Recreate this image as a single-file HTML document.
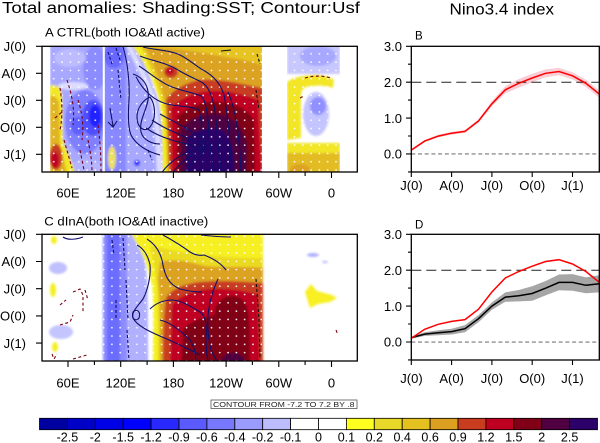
<!DOCTYPE html>
<html><head><meta charset="utf-8"><style>
html,body{margin:0;padding:0;background:#fff;}
svg{display:block;font-family:"Liberation Sans",Arial,sans-serif;}
</style></head><body>
<svg width="600" height="443" viewBox="0 0 600 443" xmlns="http://www.w3.org/2000/svg">
<defs>
<clipPath id="cA"><rect x="42" y="46.3" width="315.3" height="125.7"/></clipPath>
<clipPath id="cC"><rect x="42" y="234.3" width="315.3" height="126.7"/></clipPath>
<clipPath id="cB"><rect x="411.3" y="46.3" width="188" height="125.7"/></clipPath>
<clipPath id="cD"><rect x="411.3" y="234.3" width="188" height="125.7"/></clipPath>
<filter id="bl" filterUnits="userSpaceOnUse" x="0" y="0" width="600" height="443"><feGaussianBlur stdDeviation="1.1"/></filter>
<pattern id="dots" width="8.3" height="8.3" patternUnits="userSpaceOnUse"><circle cx="4" cy="4" r="0.85" fill="#ffffff"/></pattern>
</defs>

<!-- Titles -->
<text x="2" y="13" font-size="15.5" textLength="358" lengthAdjust="spacingAndGlyphs">Total anomalies: Shading:SST; Contour:Usf</text>
<text x="449.5" y="14.5" font-size="15.5" textLength="104.5" lengthAdjust="spacingAndGlyphs">Nino3.4 index</text>
<text x="45" y="36.6" font-size="11.5" textLength="160" lengthAdjust="spacingAndGlyphs">A  CTRL(both IO&amp;Atl active)</text>
<text x="44.3" y="225.3" font-size="11.5" textLength="164" lengthAdjust="spacingAndGlyphs">C  dInA(both IO&amp;Atl inactive)</text>
<text x="415" y="39.3" font-size="11.5">B</text>
<text x="415" y="228.3" font-size="11.5">D</text>

<!-- ================= PANEL A ================= -->
<g clip-path="url(#cA)">
<rect x="42" y="46" width="316" height="127" fill="#fff"/>
<g filter="url(#bl)">
 <!-- Indian Ocean -->
 <rect x="50" y="40" width="54" height="140" fill="#a8a8ff"/>
 <ellipse cx="95" cy="68" rx="12" ry="22" fill="#8c8cff"/>
 <ellipse cx="70" cy="58" rx="16" ry="9" fill="#bcbcff"/>
 <ellipse cx="73" cy="86" rx="15" ry="4" fill="#dcdcff"/>
 <ellipse cx="85" cy="122" rx="20" ry="32" fill="#8080ff"/>
 <ellipse cx="78" cy="126" rx="7" ry="9" fill="#6060ff"/>
 <ellipse cx="93" cy="118" rx="11" ry="18" fill="#5050ff"/>
 <ellipse cx="95" cy="116" rx="6" ry="11" fill="#2020ff"/>
 <ellipse cx="86" cy="168" rx="18" ry="8" fill="#b4b4ff"/>
 <path d="M50,86 C55,83 61,87 62,95 L63,140 C66,150 73,160 76,180 L50,180 Z" fill="#f2e628"/>
 <path d="M50,96 C54,95 58,98 59,104 L60,145 C62,155 66,165 68,180 L50,180 Z" fill="#e0b424"/>
 <ellipse cx="56" cy="157" rx="6.5" ry="13" fill="#c83c20"/>
 <ellipse cx="55" cy="160" rx="4" ry="8" fill="#c00020"/>
 <!-- West Pacific blue -->
 <path d="M104,40 L133,40 C142,60 152,80 158,100 C162,120 163,150 165,180 L104,180 Z" fill="#a8a8ff"/>
 <rect x="104" y="40" width="22" height="140" fill="#8888ff"/>
 <ellipse cx="114" cy="56" rx="10" ry="12" fill="#6868ff"/>
 <path d="M128,40 C138,58 150,80 156,100 C160,120 161,150 163,180 L157,180 C156,150 155,120 151,102 C145,82 133,60 123,40 Z" fill="#dcdcff"/>
 <ellipse cx="112" cy="158" rx="4" ry="12" fill="#ece060"/>
 <ellipse cx="137" cy="163" rx="3" ry="3" fill="#3030ff"/>
 <!-- Pacific warm -->
 <path d="M128,40 L263,40 L263,180 L163,180 C162,150 162,125 160,105 C156,85 145,62 128,40 Z" fill="#f4ec22"/>
 <path d="M138,40 L263,40 L263,180 L167,180 C166,150 166,125 164,108 C160,88 150,64 138,40 Z" fill="#e6c424"/>
 <path d="M146,48 C170,47 200,52 230,58 C245,60 255,62 263,66 L263,180 L170,180 C169,140 168,115 166,105 C162,85 155,65 146,48 Z" fill="#dca222"/>
 <ellipse cx="171" cy="72" rx="7" ry="6" fill="#c83c20"/>
 <ellipse cx="170" cy="71" rx="4" ry="3.5" fill="#c00020"/>
 <path d="M166,100 C172,90 185,83 200,80 C220,78 240,84 263,88 L263,180 L169,180 C168,140 167,115 166,100 Z" fill="#c83c20"/>
 <path d="M171,108 C180,98 195,92 210,91 C230,90 248,96 258,100 L262,180 L172,180 Z" fill="#c00020"/>
 <path d="M177,118 C185,108 200,102 215,102 C235,102 248,110 254,120 L255,180 L177,180 Z" fill="#800018"/>
 <path d="M181,130 C188,118 205,112 220,114 C238,118 247,135 247,150 L246,180 L180,180 Z" fill="#500040"/>
 <path d="M186,140 C192,130 210,126 222,130 C232,137 235,155 234,180 L186,180 Z" fill="#2c0068"/>
 <!-- Atlantic -->
 <rect x="287" y="40" width="53" height="34" fill="#c8c8ff"/>
 <ellipse cx="318" cy="56" rx="18" ry="10" fill="#a8a8ff"/>
 <path d="M287,82 C292,78 300,76 310,75 C320,74 328,76 334,80 L333,88 C325,85 315,85 306,87 C301,89 301,93 301,100 L301,138 L287,140 Z" fill="#f2e628"/>
 <ellipse cx="316" cy="114" rx="13" ry="22" fill="#c4c4ff"/>
 <ellipse cx="318" cy="106" rx="8" ry="9" fill="#9090ff"/>
 <rect x="287" y="143" width="53" height="40" fill="#f2e628"/>
 <rect x="287" y="153" width="53" height="30" fill="#e2bc24"/>
 <ellipse cx="300" cy="170" rx="10" ry="6" fill="#dca222"/>
</g>
<!-- land -->
<rect x="42" y="40" width="8" height="140" fill="#fff"/>
<rect x="102.8" y="40" width="2" height="140" fill="#fff"/>
<rect x="262" y="40" width="25" height="140" fill="#fff"/>
<rect x="340" y="40" width="20" height="140" fill="#fff"/>
<rect x="42" y="46" width="316" height="127" fill="url(#dots)"/>
<!-- contours -->
<g fill="none" stroke="#10106a" stroke-width="1.1">
 <path d="M143,47 C155,50 170,50 180,55 C190,60 196,66 203,70 C212,75 220,82 224,95 C228,115 230,140 232,175"/>
 <path d="M140,56 C152,61 165,62 178,70 C188,76 196,79 203,83 C210,88 214,100 216,120 C218,140 220,160 221,175"/>
 <path d="M139,66 C150,73 162,84 175,88 C186,92 195,93 201,96 C206,100 208,115 209,135 C210,150 212,165 213,175"/>
 <path d="M136,77 C142,88 152,100 167,104 C180,107 192,106 199,110 C202,120 202,140 204,175"/>
 <path d="M146,128 C160,138 180,143 200,147 C185,152 170,160 160,175"/>
 <path d="M152,120 C166,130 186,137 206,146 C191,155 179,163 171,175"/>
 <path d="M160,114 C174,122 192,130 211,145 C199,155 189,165 183,175"/>
 <path d="M150,97 C156,105 156,120 150,127 C145,133 137,128 137,117 C137,108 143,100 150,97 Z"/>
 <path d="M133,74 C142,77 150,85 148,100 C146,112 139,120 141,132 C143,140 152,144 160,144"/>
 <path d="M123,47 C127,60 130,80 129,100 C128,115 128,128 131,135 C136,145 148,152 160,155"/>
 <path d="M228,92 C236,110 240,140 241,175"/>
 <path d="M110,108 L113,126 M108,122 L113,127 L117,121" />
</g>
<g fill="none" stroke="#10106a" stroke-width="1.1" stroke-dasharray="3 2">
 <path d="M108,52 L112,64"/><path d="M116,48 L120,60"/><path d="M118,70 L121,100"/>
 <path d="M148,150 L152,160"/>
</g>
<g fill="none" stroke="#7a0010" stroke-width="1.1" stroke-dasharray="3 2.5">
 <path d="M60,88 C62,100 63,115 60,130"/>
 <path d="M67,80 C72,95 75,110 73,125"/>
 <path d="M78,100 C82,112 84,125 82,140"/>
 <path d="M88,140 C90,150 92,160 92,172"/>
 <path d="M98,125 C100,140 101,155 101,172"/>
 <path d="M64,140 L72,168"/>
 <path d="M55,118 L62,112"/>
 <path d="M80,150 L84,170"/>
 <path d="M305,78 C315,75 325,76 331,78"/>
 <path d="M300,98 L304,96"/>
</g>
<g fill="none" stroke="#111" stroke-width="1.1">
 <path d="M221,51 L231,50"/><path d="M257,54 L260,64" stroke-dasharray="3 2"/>
 <path d="M256,90 L259,110" stroke-dasharray="3 2"/>
</g>
</g>
<rect x="42" y="46.3" width="315.3" height="125.7" fill="none" stroke="#000" stroke-width="1.3"/>

<!-- ================= PANEL C ================= -->
<g clip-path="url(#cC)">
<rect x="42" y="234" width="316" height="128" fill="#fff"/>
<g filter="url(#bl)">
 <ellipse cx="58" cy="268" rx="9" ry="6" fill="#c0c0ff"/>
 <ellipse cx="61" cy="332" rx="12" ry="7" fill="#c4c4ff"/>
 <ellipse cx="53" cy="290" rx="3" ry="7" fill="#f4f020"/>
 <ellipse cx="55" cy="347" rx="3" ry="5" fill="#f4f020"/>
 <ellipse cx="54" cy="240" rx="3" ry="4" fill="#f4f020"/>
 <rect x="103" y="228" width="25" height="140" fill="#8c8cff"/>
 <rect x="107" y="228" width="13" height="140" fill="#6c6cff"/>
 <path d="M127,228 L134,228 C142,245 146,262 147,280 C148,300 148,330 148,370 L127,370 Z" fill="#b0b0ff"/>
 <path d="M128,228 L263,228 L263,370 L153,370 C153,330 154,300 152,285 C148,265 140,248 128,228 Z" fill="#f6f022"/>
 <path d="M150,246 C175,250 200,258 263,258 L263,370 L158,370 C158,320 158,295 156,280 C154,265 152,255 150,246 Z" fill="#eada24"/>
 <path d="M160,262 C175,258 190,262 205,266 C225,268 245,266 263,268 L263,370 L160,370 C160,320 160,295 158,280 Z" fill="#dca222"/>
 <path d="M166,298 C172,288 185,284 200,282 C225,280 245,282 263,283 L263,370 L163,370 C163,330 164,310 166,298 Z" fill="#c83c20"/>
 <path d="M172,305 C180,295 195,290 210,289 C235,288 250,292 258,295 L260,370 L170,370 Z" fill="#c00020"/>
 <path d="M183,330 C190,320 205,318 214,315 C215,305 220,296 232,296 C244,296 248,305 249,320 L250,370 L181,370 Z" fill="#800018"/>
 <ellipse cx="233" cy="362" rx="12" ry="9" fill="#500040"/>
 <path d="M305,292 L311,284 L317,291 L332,295 L337,298 L330,302 L318,304 L310,308 Z" fill="#f8f020"/>
 <ellipse cx="313" cy="255" rx="6" ry="2" fill="#b0b0ff"/>
 <ellipse cx="325" cy="262" rx="3" ry="1.2" fill="#c0c0ff"/>
</g>
<rect x="262" y="228" width="25" height="140" fill="#fff" opacity="0"/>
<rect x="103" y="234" width="159" height="128" fill="url(#dots)"/>
<g fill="none" stroke="#10106a" stroke-width="1.1">
 <path d="M63,237 C67,240 75,240 83,237"/>
 <path d="M137,245 C143,248 148,255 150,265 C151,275 148,290 143,299 C138,306 131,312 133,318 C137,326 150,332 167,339 C180,345 190,350 200,355"/>
 <path d="M147,239 C155,244 161,252 163,265 C165,275 168,284 180,289 C188,291 195,292 202,292"/>
 <path d="M163,235 C172,240 182,246 190,252 C195,255 199,256 204,255 C212,258 220,262 226,270"/>
 <path d="M150,309 C155,304 163,300 173,300 C182,301 190,306 200,312 C206,316 207,325 206,340 C206,350 207,356 208,362"/>
 <path d="M133,312 C137,308 141,312 139,318 C136,322 131,319 133,312 Z"/>
 <path d="M218,279 C214,288 210,298 208,315 C207,330 209,342 211,350 C214,356 216,360 218,362"/>
 <path d="M201,235 C210,236 222,237 231,237"/>
 <path d="M160,320 C170,322 180,330 190,340 C195,348 196,356 196,362"/>
</g>
<g fill="none" stroke="#10106a" stroke-width="1.1" stroke-dasharray="3 2">
 <path d="M123,238 L125,270"/><path d="M126,280 L128,320"/><path d="M127,330 L129,360"/>
 <path d="M116,300 L116,318"/><path d="M112,240 L114,255"/>
</g>
<g fill="none" stroke="#111" stroke-width="1.1" stroke-dasharray="3 2">
 <path d="M256,279 L259,320 L260,359"/>
</g>
<g fill="none" stroke="#7a0010" stroke-width="1.1" stroke-dasharray="3 2.5">
 <path d="M73,292 L80,289 L83,295 L83,312"/>
 <path d="M85,290 L88,300"/>
 <path d="M60,325 L70,322 L73,315"/>
 <path d="M60,305 L66,300"/>
 <path d="M52,354 L54,359 L57,354"/>
 <path d="M73,359 L87,355"/>
 <path d="M336,330 L338,335"/>
</g>
</g>
<rect x="42" y="234.3" width="315.3" height="126.7" fill="none" stroke="#000" stroke-width="1.3"/>

<!-- Map ticks & labels -->
<g stroke="#000" stroke-width="1.1">
 <path d="M36,46.3H42M36,73.3H42M36,100.3H42M36,127.3H42M36,154.3H42"/>
 <path d="M36,234.3H42M36,261.5H42M36,288.7H42M36,315.9H42M36,343.1H42"/>
 <path d="M68,172V178M94.4,172V176M120.7,172V178M147.1,172V176M173.4,172V178M199.7,172V176M226.1,172V178M252.4,172V176M278.8,172V178M305.1,172V176M331.5,172V178"/>
 <path d="M68,361V367M94.4,361V365M120.7,361V367M147.1,361V365M173.4,361V367M199.7,361V365M226.1,361V367M252.4,361V365M278.8,361V367M305.1,361V365M331.5,361V367"/>
</g>
<g font-size="13" text-anchor="end">
 <text x="26" y="51">J(0)</text><text x="26" y="78">A(0)</text><text x="26" y="105">J(0)</text><text x="26" y="132">O(0)</text><text x="26" y="159">J(1)</text>
 <text x="26" y="239">J(0)</text><text x="26" y="266.2">A(0)</text><text x="26" y="293.4">J(0)</text><text x="26" y="320.6">O(0)</text><text x="26" y="347.8">J(1)</text>
</g>
<g font-size="13" text-anchor="middle">
 <text x="68" y="197.5">60E</text><text x="120.7" y="197.5">120E</text><text x="173.4" y="197.5">180</text><text x="226.1" y="197.5">120W</text><text x="278.8" y="197.5">60W</text><text x="331.5" y="197.5">0</text>
 <text x="68" y="387.5">60E</text><text x="120.7" y="387.5">120E</text><text x="173.4" y="387.5">180</text><text x="226.1" y="387.5">120W</text><text x="278.8" y="387.5">60W</text><text x="331.5" y="387.5">0</text>
</g>

<!-- ================= PANEL B ================= -->
<g clip-path="url(#cB)">
 <polygon fill="#f9cdd5" points="411.3,149.4 424.7,140.0 438.2,134.7 451.6,131.8 465.0,130.0 478.5,119.2 491.9,101.3 505.3,86.2 518.7,79.0 532.2,73.7 545.6,69.4 559.0,67.9 572.5,72.2 585.9,79.7 599.3,90.5 599.3,97.7 585.9,86.9 572.5,79.4 559.0,75.1 545.6,77.2 532.2,82.3 518.7,87.6 505.3,93.4 491.9,106.3 478.5,122.8 465.0,132.8 451.6,134.6 438.2,137.5 424.7,142.2 411.3,150.8"/>
 <line x1="411.3" y1="82.2" x2="600" y2="82.2" stroke="#222" stroke-width="1" stroke-dasharray="10 5"/>
 <line x1="411.3" y1="153.9" x2="600" y2="153.9" stroke="#777" stroke-width="1.1" stroke-dasharray="4 2.7"/>
 <polyline fill="none" stroke="#ff0000" stroke-width="1.5" points="411.3,150.1 424.7,141.1 438.2,136.1 451.6,133.2 465.0,131.4 478.5,121.0 491.9,103.8 505.3,89.8 518.7,83.3 532.2,78.0 545.6,73.3 559.0,71.5 572.5,75.8 585.9,83.3 599.3,94.1"/>
</g>
<rect x="411.3" y="46.3" width="188" height="125.7" fill="none" stroke="#000" stroke-width="1.3"/>

<!-- ================= PANEL D ================= -->
<g clip-path="url(#cD)">
 <polygon fill="#a6a6a6" points="411.3,336.6 424.7,332.3 438.2,330.2 451.6,328.7 465.0,325.1 478.5,315.1 491.9,302.5 505.3,292.4 518.7,290.0 532.2,286.3 545.6,281.0 559.0,274.5 572.5,274.1 585.9,277.4 599.3,275.2 599.3,292.4 585.9,293.2 572.5,290.7 559.0,290.3 545.6,295.4 532.2,300.7 518.7,301.4 505.3,301.8 491.9,309.7 478.5,322.3 465.0,332.3 451.6,334.5 438.2,335.2 424.7,335.9 411.3,338.8"/>
 <line x1="411.3" y1="270.2" x2="600" y2="270.2" stroke="#222" stroke-width="1" stroke-dasharray="10 5"/>
 <line x1="411.3" y1="342.1" x2="600" y2="342.1" stroke="#777" stroke-width="1.1" stroke-dasharray="4 2.7"/>
 <polyline fill="none" stroke="#000" stroke-width="1.5" points="411.3,337.7 424.7,334.1 438.2,332.7 451.6,331.6 465.0,328.7 478.5,318.7 491.9,306.1 505.3,297.1 518.7,295.7 532.2,293.5 545.6,288.2 559.0,282.4 572.5,282.4 585.9,285.3 599.3,283.8"/>
 <polyline transform="translate(0,188.2)" fill="none" stroke="#ff0000" stroke-width="1.5" points="411.3,150.1 424.7,141.1 438.2,136.1 451.6,133.2 465.0,131.4 478.5,121.0 491.9,103.8 505.3,89.8 518.7,83.3 532.2,78.0 545.6,73.3 559.0,71.5 572.5,75.8 585.9,83.3 599.3,94.1"/>
</g>
<rect x="411.3" y="234.3" width="188" height="125.7" fill="none" stroke="#000" stroke-width="1.3"/>

<!-- right panel ticks -->
<g stroke="#000" stroke-width="1.1">
 <path d="M406,46.3H411.3M406,82.2H411.3M406,118.1H411.3M406,153.9H411.3M408,64.2H411.3M408,100.1H411.3M408,136H411.3M408,171.9H411.3"/>
 <path d="M411.3,172V177M451.6,172V177M491.9,172V177M532.2,172V177M572.5,172V177"/>
 <path d="M406,234.3H411.3M406,270.2H411.3M406,306.1H411.3M406,342H411.3M408,252.2H411.3M408,288.1H411.3M408,324H411.3M408,359.9H411.3"/>
 <path d="M411.3,360V365M451.6,360V365M491.9,360V365M532.2,360V365M572.5,360V365"/>
</g>
<g font-size="13" text-anchor="end">
 <text x="402" y="51">3.0</text><text x="402" y="86.9">2.0</text><text x="402" y="122.8">1.0</text><text x="402" y="158.6">0.0</text>
 <text x="402" y="239">3.0</text><text x="402" y="274.9">2.0</text><text x="402" y="310.8">1.0</text><text x="402" y="346.7">0.0</text>
</g>
<g font-size="13" text-anchor="middle">
 <text x="411.5" y="190">J(0)</text><text x="451.6" y="190">A(0)</text><text x="491.9" y="190">J(0)</text><text x="532.2" y="190">O(0)</text><text x="572.5" y="190">J(1)</text>
 <text x="411.5" y="383">J(0)</text><text x="451.6" y="383">A(0)</text><text x="491.9" y="383">J(0)</text><text x="532.2" y="383">O(0)</text><text x="572.5" y="383">J(1)</text>
</g>

<!-- contour info box -->
<rect x="211" y="400" width="146" height="8.5" fill="#fff" stroke="#555" stroke-width="0.8"/>
<text x="213" y="407.2" font-size="7.2" textLength="141.5" lengthAdjust="spacingAndGlyphs" fill="#222">CONTOUR FROM -7.2 TO 7.2 BY .8</text>

<!-- colorbar -->
<g stroke="#000" stroke-width="0.8">
 <rect x="39.5" y="418.3" width="27.9" height="11.4" fill="#0000a0"/>
 <rect x="67.4" y="418.3" width="27.9" height="11.4" fill="#0000c8"/>
 <rect x="95.3" y="418.3" width="27.9" height="11.4" fill="#0000e6"/>
 <rect x="123.2" y="418.3" width="27.9" height="11.4" fill="#0000ff"/>
 <rect x="151.1" y="418.3" width="27.9" height="11.4" fill="#2828ff"/>
 <rect x="179" y="418.3" width="27.9" height="11.4" fill="#5a5aff"/>
 <rect x="206.9" y="418.3" width="27.9" height="11.4" fill="#7878ff"/>
 <rect x="234.8" y="418.3" width="27.9" height="11.4" fill="#9a9aff"/>
 <rect x="262.7" y="418.3" width="27.9" height="11.4" fill="#bcbcff"/>
 <rect x="290.6" y="418.3" width="27.9" height="11.4" fill="#ffffff"/>
 <rect x="318.5" y="418.3" width="27.9" height="11.4" fill="#ffffff"/>
 <rect x="346.4" y="418.3" width="27.9" height="11.4" fill="#ffff20"/>
 <rect x="374.3" y="418.3" width="27.9" height="11.4" fill="#e8d828"/>
 <rect x="402.2" y="418.3" width="27.9" height="11.4" fill="#e4c020"/>
 <rect x="430.1" y="418.3" width="27.9" height="11.4" fill="#dca020"/>
 <rect x="458" y="418.3" width="27.9" height="11.4" fill="#c83c20"/>
 <rect x="485.9" y="418.3" width="27.9" height="11.4" fill="#c00020"/>
 <rect x="513.8" y="418.3" width="27.9" height="11.4" fill="#800018"/>
 <rect x="541.7" y="418.3" width="27.9" height="11.4" fill="#500040"/>
 <rect x="569.6" y="418.3" width="27.9" height="11.4" fill="#2c0068"/>
</g>
<g font-size="12.5" text-anchor="middle">
 <text x="67.4" y="441.5">-2.5</text><text x="95.3" y="441.5">-2</text><text x="123.2" y="441.5">-1.5</text><text x="151.1" y="441.5">-1.2</text><text x="179" y="441.5">-0.9</text><text x="206.9" y="441.5">-0.6</text><text x="234.8" y="441.5">-0.4</text><text x="262.7" y="441.5">-0.2</text><text x="290.6" y="441.5">-0.1</text><text x="318.5" y="441.5">0</text><text x="346.4" y="441.5">0.1</text><text x="374.3" y="441.5">0.2</text><text x="402.2" y="441.5">0.4</text><text x="430.1" y="441.5">0.6</text><text x="458" y="441.5">0.9</text><text x="485.9" y="441.5">1.2</text><text x="513.8" y="441.5">1.5</text><text x="541.7" y="441.5">2</text><text x="569.6" y="441.5">2.5</text>
</g>
</svg>
</body></html>
